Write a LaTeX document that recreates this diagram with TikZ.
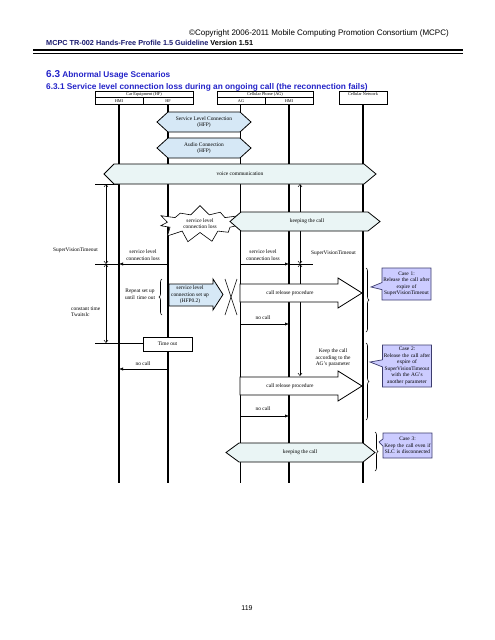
\documentclass[tikz,border=0pt]{standalone}
\usepackage{fontspec}
\setmainfont{Liberation Serif}
\setsansfont{Liberation Sans}
\usepackage{tikz}
\usetikzlibrary{arrows.meta,shapes.symbols,shapes.callouts,decorations.pathreplacing}

\definecolor{slcblue}{RGB}{214,232,246}
\definecolor{voicecyan}{RGB}{234,245,245}
\definecolor{caseblue}{RGB}{204,204,255}
\definecolor{caseedge}{RGB}{60,60,110}
\definecolor{titleblue}{RGB}{35,35,200}
\definecolor{headnavy}{RGB}{25,25,110}

\begin{document}
\begin{tikzpicture}[x=1pt, y=-1pt, font=\fontsize{5.4}{6.5}\selectfont,
    life/.style = {line width=1.4pt},
    lifeag/.style = {line width=0.7pt},
    hdr/.style = {draw, line width=0.6pt, inner sep=0pt, font=\fontsize{4.3}{5}\selectfont},
    txt/.style = {inner sep=0pt, align=center},
    msg/.style = {line width=0.6pt, -{Latex[length=4pt,width=3.2pt]}},
    dim/.style = {line width=0.5pt, {Straight Barb[length=2.5pt,width=4pt]}-{Straight Barb[length=2.5pt,width=4pt]}},
    tick/.style = {line width=0.6pt},
    hexblue/.style = {draw, line width=0.8pt, fill=slcblue},
    hexcyan/.style = {draw, line width=0.8pt, fill=voicecyan},
    blk/.style = {draw, line width=0.8pt, fill=white},
    brc/.style = {decorate, decoration={brace, amplitude=3pt}, line width=0.6pt},
    casebox/.style = {rectangle callout, draw=caseedge, fill=caseblue, line width=0.7pt, inner xsep=1pt, inner ysep=1pt, align=center, text width=47pt}]
    \useasboundingbox (0,0) rectangle (495,640);

    % page head
    \node [txt, anchor=base east, font=\sffamily\fontsize{8}{9}\selectfont] (copy) at (449,35) {\textcopyright Copyright 2006-2011 Mobile Computing Promotion Consortium (MCPC)};
    \node [txt, anchor=base west, font=\sffamily\bfseries\fontsize{7.3}{8}\selectfont] (doc) at (46,45.5) {\textcolor{headnavy}{MCPC TR-002 Hands-Free Profile 1.5 Guideline} Version 1.51};
    \draw [line width=2pt] (33,50) -- (463,50);
    \draw [line width=0.7pt] (33,53) -- (463,53);
    \node [txt, anchor=base west, text=titleblue, font=\sffamily\bfseries\fontsize{8.3}{9}\selectfont] (sec) at (46,77.5) {{\fontsize{10}{10}\selectfont 6.3} Abnormal Usage Scenarios};
    \node [txt, anchor=base west, text=titleblue, font=\sffamily\bfseries\fontsize{8.3}{9}\selectfont] (subsec) at (46,89) {6.3.1 Service level connection loss during an ongoing call (the reconnection fails)};

    % entities
    \node [hdr, minimum width=98pt, minimum height=6.5pt] (car) at (144,94.5) {Car Equipment (HF)};
    \node [hdr, minimum width=48pt, minimum height=6.5pt] (hmiA) at (119,101) {HMI};
    \node [hdr, minimum width=50pt, minimum height=6.5pt] (hf) at (168,101) {HF};
    \node [hdr, minimum width=96pt, minimum height=6.5pt] (phone) at (265,94.5) {Cellular Phone (AG)};
    \node [hdr, minimum width=48pt, minimum height=6.5pt] (ag) at (241,101) {AG};
    \node [hdr, minimum width=48pt, minimum height=6.5pt] (hmiB) at (289,101) {HMI};
    \node [hdr, minimum width=48pt, minimum height=13pt, anchor=north] (net) at (363,91) {};
    \node [txt, font=\fontsize{4.3}{5}\selectfont] (netlbl) at (363,94.5) {Cellular Network};

    \coordinate (hmiAend) at (119,483);
    \coordinate (hfend) at (168,483);
    \coordinate (agend) at (240,483);
    \coordinate (hmiBend) at (289,483);
    \coordinate (netend) at (363,483);
    \draw [life] (hmiA.south) -- (hmiAend);
    \draw [life] (hf.south) -- (hfend);
    \draw [lifeag] (240,104) -- (agend);
    \draw [life] (hmiB.south) -- (hmiBend);
    \draw [life] (net.south) -- (netend);

    % timing marks
    \coordinate (l1) at (106,184);
    \coordinate (l2) at (106,264);
    \coordinate (l3) at (106,343);
    \coordinate (r1) at (300,184);
    \coordinate (r2) at (300,264);
    \coordinate (r3) at (300,376);
    \draw [tick] (95,184) -- (119,184);
    \draw [tick] (95,264) -- (119,264);
    \draw [tick] (95,343) -- (143,343);
    \draw [tick] (289,264) -- (313,264);
    \draw [dim] (l1) -- (l2);
    \draw [dim] (l2) -- (l3);
    \draw [dim] (r1) -- (r2);
    \draw [dim] (r2) -- (r3);
    \node [txt] (svt1) at (75.5,250) {SuperVisionTimeout};
    \node [txt, align=left, anchor=west] (twait) at (71,311.5) {constant time\\Twaitslc};
    \node [txt] (svt2) at (333.5,253) {SuperVisionTimeout};
    \node [txt] (keepag) at (333,358) {Keep the call\\according to the\\AG's parameter};

    % connections
    \draw [hexblue] (157,122) -- (168,112) -- (240,112) -- (251,122) -- (240,132) -- (168,132) -- cycle;
    \node [txt] (slc) at (204,122) {Service Level Connection\\(HFP)};
    \draw [hexblue] (157,148) -- (168,138) -- (240,138) -- (251,148) -- (240,158) -- (168,158) -- cycle;
    \node [txt] (audio) at (204,148) {Audio Connection\\(HFP)};
    \draw [hexcyan] (104,174) -- (114,164) -- (364,164) -- (376,174) -- (364,184) -- (114,184) -- cycle;
    \node [txt] (voice) at (240,174) {voice communication};
    \node [starburst, draw, fill=white, line width=0.6pt, minimum width=86pt, minimum height=38pt, starburst points=11, starburst point height=10pt, random starburst=40, txt] (loss) at (200,223.5) {service level\\connection loss};
    \draw [hexcyan] (230,221.5) -- (241,212) -- (368,212) -- (380,221.5) -- (368,231) -- (241,231) -- cycle;
    \node [txt] (keep1) at (307,221.5) {keeping the call};

    % loss reported
    \coordinate (hfA) at (168,264);
    \coordinate (hmiA1) at (119,264);
    \coordinate (agA) at (240,264);
    \coordinate (hmiB1) at (289,264);
    \draw [msg] (hfA) -- (hmiA1);
    \draw [msg] (agA) -- (hmiB1);
    \node [txt] (lossL) at (143,255) {service level\\connection loss};
    \node [txt] (lossR) at (263,255) {service level\\connection loss};

    % reconnection attempt
    \node [txt] (repeat) at (140,294.5) {Repeat set up\\until\, time out};
    \draw [brc] (162,315) -- (162,279);
    \draw [hexblue] (169,284) -- (213,284) -- (213,279) -- (223,294.5) -- (213,310) -- (213,306) -- (169,306) -- cycle;
    \node [txt] (setup) at (190,295) {service level\\connection set up\\(HFP0.2)};
    \draw [line width=0.6pt] (225,279) .. controls (229,291) and (233,303) .. (237,315);
    \draw [line width=0.6pt] (237,279) .. controls (233,291) and (229,303) .. (225,315);

    % case 1
    \draw [blk] (240,284) -- (338,284) -- (338,278) -- (362,293) -- (338,308) -- (338,302) -- (240,302) -- cycle;
    \node [txt] (rel1) at (290,293) {call release procedure};
    \coordinate (agB) at (240,324);
    \coordinate (hmiB2) at (289,324);
    \draw [msg] (agB) -- (hmiB2);
    \node [txt] (nocall1) at (263,317.5) {no call};

    % time out
    \node [draw, fill=white, line width=0.6pt, minimum width=49pt, minimum height=14pt, inner sep=0pt] (tout) at (167.5,344) {Time out};
    \coordinate (hfC) at (168,369);
    \coordinate (hmiA2) at (119,369);
    \draw [msg] (hfC) -- (hmiA2);
    \node [txt] (nocall2) at (143,363.5) {no call};

    % case 2
    \draw [blk] (240,377) -- (338,377) -- (338,371) -- (362,386) -- (338,401) -- (338,395) -- (240,395) -- cycle;
    \node [txt] (rel2) at (290,386) {call release procedure};
    \coordinate (agC) at (240,416);
    \coordinate (hmiB3) at (289,416);
    \draw [msg] (agC) -- (hmiB3);
    \node [txt] (nocall3) at (263,408.5) {no call};

    % case 3
    \draw [hexcyan] (226,452.5) -- (239,443) -- (363,443) -- (375,452.5) -- (363,462) -- (239,462) -- cycle;
    \node [txt] (keep2) at (300,452.5) {keeping the call};

    % cases
    \draw [brc] (366,268) -- (366,332);
    \draw [brc] (366,343) -- (366,420);
    \draw [brc] (375,432) -- (375,471);
    \coordinate (c1p) at (371,287);
    \coordinate (c2p) at (370,362);
    \coordinate (c3p) at (379,442);
    \node [casebox, minimum height=32pt, callout absolute pointer={(c1p)}] (case1) at (406.5,284) {Case 1:\\Release the call after\\expire of\\SuperVisionTimeout};
    \node [casebox, minimum height=42pt, callout absolute pointer={(c2p)}] (case2) at (407,366) {Case 2:\\Release the call after\\expire of\\SuperVisionTimeout\\with the AG's\\another parameter};
    \node [casebox, minimum height=25pt, callout absolute pointer={(c3p)}] (case3) at (407.5,445.5) {Case 3:\\Keep the call even if\\SLC is disconnected};

    \node [txt, font=\sffamily\fontsize{7}{8}\selectfont] (page) at (247,608) {119};
\end{tikzpicture}
\end{document}
